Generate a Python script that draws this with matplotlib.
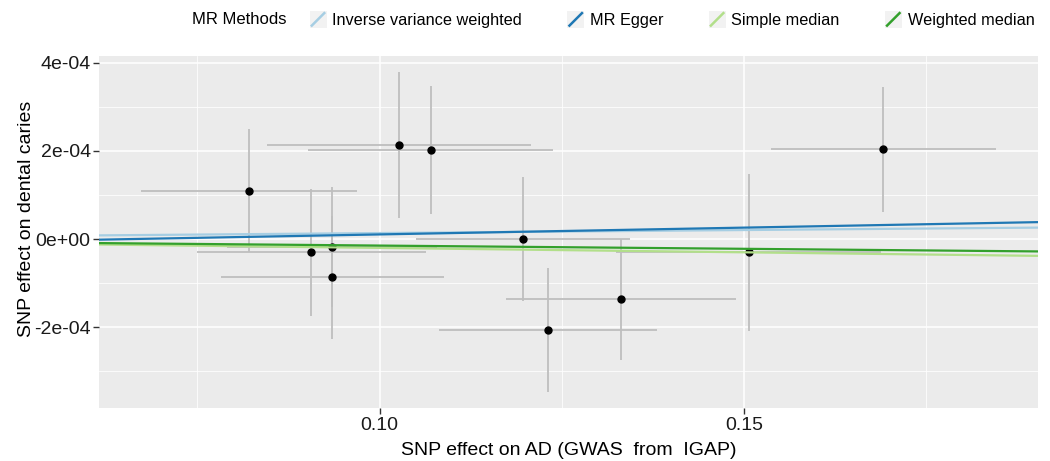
import matplotlib
matplotlib.use("Agg")
import matplotlib.pyplot as plt
from matplotlib.patches import Rectangle
from matplotlib.lines import Line2D
from matplotlib.legend_handler import HandlerBase
from matplotlib.ticker import FixedLocator, FixedFormatter

plt.rcParams['font.family'] = ['Liberation Sans', 'DejaVu Sans']

# SNP estimates (exposure = AD, outcome = dental caries)
beta_exp = [0.0821, 0.0906, 0.0935, 0.0934, 0.1027, 0.1070, 0.1197, 0.1231, 0.1331, 0.1506, 0.1691]
se_exp = [0.0148, 0.0157, 0.0153, 0.0144, 0.0181, 0.0168, 0.0147, 0.0149, 0.0158, 0.0182, 0.0154]
beta_out = [1.10e-4, -0.30e-4, -0.87e-4, -0.18e-4, 2.14e-4, 2.02e-4, 0.00e-4, -2.06e-4, -1.37e-4, -0.30e-4, 2.04e-4]
se_out = [1.40e-4, 1.44e-4, 1.40e-4, 1.37e-4, 1.66e-4, 1.46e-4, 1.40e-4, 1.40e-4, 1.38e-4, 1.78e-4, 1.42e-4]

# MR method fits
methods = ["Inverse variance weighted", "MR Egger", "Simple median", "Weighted median"]
intercepts = [0.0, -0.203e-4, 0.0, 0.0]
slopes = [1.37e-4, 3.09e-4, -2.00e-4, -1.47e-4]
colors = ["#A6CEE3", "#1F78B4", "#B2DF8A", "#33A02C"]

xticks = [0.10, 0.15]
xticklabels = ["0.10", "0.15"]
xminor = [0.075, 0.125, 0.175]
yticks = [-2e-4, 0, 2e-4, 4e-4]
yticklabels = ["-2e-04", "0e+00", "2e-04", "4e-04"]
yminor = [-3e-4, -1e-4, 1e-4, 3e-4]


# ggplot-like abline key: grey square with a diagonal stroke
class DiagKey(HandlerBase):
    def __init__(self):
        super().__init__(xpad=0., ypad=0.)

    def create_artists(self, legend, orig_handle, xdescent, ydescent,
                       width, height, fontsize, trans):
        side = width
        x0 = -xdescent
        y0 = -ydescent + height / 2 - side / 2
        bg = Rectangle((x0, y0), side, side, facecolor="#F2F2F2",
                       edgecolor="none", transform=trans)
        ln = Line2D([x0 + 1, x0 + side - 1], [y0 + 1, y0 + side - 1],
                    color=orig_handle.get_color(), lw=1.8,
                    solid_capstyle="butt", transform=trans)
        return [bg, ln]


fig = plt.figure(figsize=(10.5, 4.61), dpi=100)
ax = fig.add_axes([0.0943, 0.1143, 0.8943, 0.7647])
ax.set_facecolor("#EBEBEB")

ax.errorbar(beta_exp, beta_out, yerr=se_out, fmt="none", ecolor="#BEBEBE",
            elinewidth=1.3, capsize=0, zorder=2)
ax.errorbar(beta_exp, beta_out, xerr=se_exp, fmt="none", ecolor="#BEBEBE",
            elinewidth=1.3, capsize=0, zorder=2)
ax.plot(beta_exp, beta_out, "o", color="black", markersize=5, zorder=3)

handles = []
for m, a, b, c in zip(methods, intercepts, slopes, colors):
    ax.axline((0, a), slope=b, color=c, lw=1.6, zorder=4)
    handles.append(Line2D([], [], color=c, lw=1.6))

ax.set_xlim(0.0615, 0.1903)
ax.set_ylim(-3.84e-4, 4.16e-4)

ax.xaxis.set_major_locator(FixedLocator(xticks))
ax.xaxis.set_major_formatter(FixedFormatter(xticklabels))
ax.xaxis.set_minor_locator(FixedLocator(xminor))
ax.yaxis.set_major_locator(FixedLocator(yticks))
ax.yaxis.set_major_formatter(FixedFormatter(yticklabels))
ax.yaxis.set_minor_locator(FixedLocator(yminor))

ax.grid(which="major", color="white", lw=1.1)
ax.grid(which="minor", color="white", lw=0.55)
ax.set_axisbelow(True)
for s in ax.spines.values():
    s.set_visible(False)
ax.tick_params(which="major", length=4, width=1, color="#333333",
               labelsize=14, labelcolor="#1A1A1A", pad=2)
ax.tick_params(which="minor", length=0)

ax.set_xlabel("SNP effect on AD (GWAS  from  IGAP)", fontsize=14, labelpad=6)
ax.set_ylabel("SNP effect on dental caries", fontsize=14)
ax.yaxis.set_label_coords(-0.068, 0.537)

fig.text(191.7 / 1050, 1 - 20 / 461, "MR Methods", fontsize=12, va="center", ha="left")
fig.legend(handles, methods, handler_map={Line2D: DiagKey()}, ncol=4,
           loc="center left", bbox_to_anchor=(309.5 / 1050, 1 - 20 / 461),
           frameon=False, fontsize=11.7, handlelength=1.05, handleheight=1.0,
           handletextpad=0.35, columnspacing=2.78, borderpad=0, borderaxespad=0)

fig.savefig("out.png", dpi=100)
